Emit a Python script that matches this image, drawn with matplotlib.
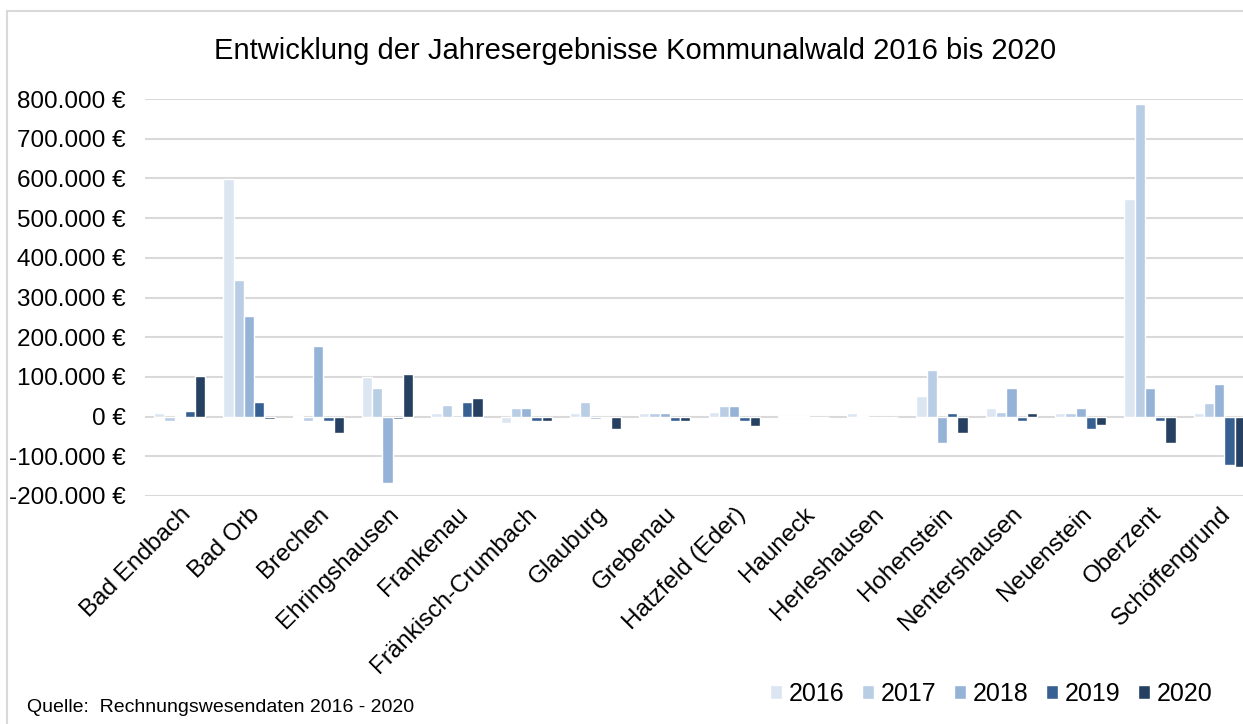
import matplotlib
matplotlib.use("Agg")
import matplotlib.pyplot as plt
import numpy as np
from matplotlib.patches import Rectangle
from matplotlib.ticker import FuncFormatter

plt.rcParams['font.family'] = ['Liberation Sans', 'DejaVu Sans']

categories = ["Bad Endbach", "Bad Orb", "Brechen", "Ehringshausen", "Frankenau",
              "Fränkisch-Crumbach", "Glauburg", "Grebenau", "Hatzfeld (Eder)", "Hauneck",
              "Herleshausen", "Hohenstein", "Nentershausen", "Neuenstein", "Oberzent",
              "Schöffengrund"]
years = ["2016", "2017", "2018", "2019", "2020"]
v2016 = [8000, 598000, 1000, 100000, 8000, -17000, 8000, 8000, 12000, 1000, 8000, 52000, 22000, 8000, 548000, 8000]
v2017 = [-12000, 344000, -12000, 72000, 28000, 22000, 37000, 8000, 27000, 1000, 1000, 117000, 12000, 8000, 788000, 33000]
v2018 = [1000, 254000, 177000, -167000, -2000, 22000, -7000, 8000, 27000, 1000, -2000, -67000, 72000, 22000, 72000, 82000]
v2019 = [13000, 37000, -12000, -7000, 37000, -12000, -2000, -12000, -12000, -2000, -2000, 8000, -12000, -32000, -12000, -122000]
v2020 = [102000, -7000, -42000, 108000, 47000, -12000, -32000, -12000, -23000, -2000, -2000, -42000, 8000, -22000, -67000, -127000]
series = [v2016, v2017, v2018, v2019, v2020]
colors = ["#dce6f2", "#b9cde5", "#95b3d7", "#366092", "#254061"]
yticks = [-200000, -100000, 0, 100000, 200000, 300000, 400000, 500000, 600000, 700000, 800000]

W, H = 1243, 724
fig = plt.figure(figsize=(W / 100, H / 100), dpi=100)
fig.patch.set_facecolor("white")
fig.patches.append(Rectangle((7 / W, -0.1), 1.2, (H - 11) / H + 0.1, transform=fig.transFigure,
                             fill=False, edgecolor="#d9d9d9", linewidth=1.5, zorder=0))

left, right, top, bottom = 145, 1254, 99, 496
ax = fig.add_axes([left / W, 1 - bottom / H, (right - left) / W, (bottom - top) / H])
ax.set_facecolor("none")

x = np.arange(len(categories))
slot = 0.148
for i, (vals, c, yr) in enumerate(zip(series, colors, years)):
    ax.bar(x + (i - 2) * slot, vals, width=slot, color=c, edgecolor="white", linewidth=1.0,
           label=yr, zorder=3)

ax.set_xlim(-0.5, len(categories) - 0.5)
ax.set_ylim(-200000, 800000)
ax.set_yticks(yticks)
ax.yaxis.set_major_formatter(FuncFormatter(lambda v, p: f"{int(v):,}".replace(",", ".") + " €"))
ax.grid(axis="y", color="#d9d9d9", linewidth=1.5, zorder=0)
ax.set_axisbelow(True)
for s in ax.spines.values():
    s.set_visible(False)
ax.tick_params(axis="y", length=0, labelsize=17.5, pad=14, colors="black")
ax.tick_params(axis="x", length=0, labelsize=17.5, pad=5)
ax.set_xticks(x)
ax.set_xticklabels(categories, rotation=45, ha="right", rotation_mode="anchor")

fig.text(635 / W, 1 - 51 / H, "Entwicklung der Jahresergebnisse Kommunalwald 2016 bis 2020",
         ha="center", va="center", fontsize=21)
fig.text(27 / W, 1 - 707 / H, "Quelle:  Rechnungswesendaten 2016 - 2020", ha="left", va="center",
         fontsize=14)

leg = fig.legend(loc="center right", bbox_to_anchor=(1212 / W, 1 - 694 / H), ncol=5, frameon=False,
                 fontsize=18, handlelength=0.5, handleheight=0.5, handletextpad=0.25,
                 columnspacing=0.7, borderaxespad=0, borderpad=0)

fig.savefig("out.png", dpi=100, facecolor="white")
